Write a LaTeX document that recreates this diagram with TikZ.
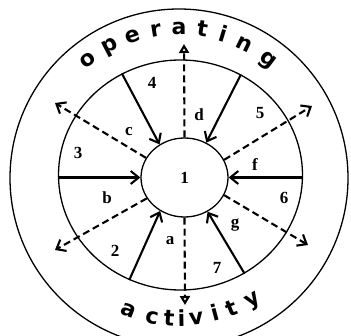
\documentclass[tikz,border=0pt]{standalone}
\usepackage{fontspec}
\usepackage{tikz}
\usetikzlibrary{arrows.meta, shapes.geometric}
\newfontfamily\numfont{Liberation Serif}
\newfontfamily\rimfont{DejaVu Sans}
\tikzset{
  ring/.style={draw, ellipse, line width=1.3pt, inner sep=0pt},
  hub/.style={draw, ellipse, line width=1.3pt, inner sep=0pt,
              font=\numfont\bfseries\fontsize{17}{17}\selectfont},
  inarrow/.style={-{Straight Barb[length=8pt,width=13pt]}, line width=2.1pt},
  outarrow/.style={-{Straight Barb[length=8pt,width=13pt]}, line width=2.1pt,
                   dash pattern=on 7pt off 4pt},
  outtri/.style={-{Triangle[open,length=9pt,width=10pt]}, line width=2.1pt,
                 dash pattern=on 7pt off 4pt},
  num/.style={font=\numfont\bfseries\fontsize{17}{17}\selectfont, inner sep=0pt},
  rimletter/.style={font=\rimfont\bfseries\fontsize{22}{22}\selectfont,
                    inner sep=0pt, anchor=base},
}

\begin{document}
\begin{tikzpicture}[x=1pt, y=1pt]
  \useasboundingbox (0,0) rectangle (351,335);

  % --- Rings ---
  \node[ring, minimum width=338, minimum height=338] (rim) at (179,157) {};
  \node[ring, minimum width=244, minimum height=230] (wall) at (180.5,160) {};
  \node[hub, minimum width=87, minimum height=79] (hub) at (184.5,157.5) {1};

  % --- Free ends of the outgoing arrows ---
  \coordinate (dtop) at (184,291);
  \coordinate (dbot) at (185,30);
  \coordinate (dtl) at (55,232);
  \coordinate (dtr) at (312,229);
  \coordinate (dbl) at (55,85);
  \coordinate (dbr) at (308,90);

  % --- Incoming arrows ---
  \draw[inarrow] (wall.120) -- (hub.127);
  \draw[inarrow] (wall.59) -- (hub.58);
  \draw[inarrow] (hub.west -| wall.west) -- (hub.west);
  \draw[inarrow] (hub.east -| wall.east) -- (hub.east);
  \draw[inarrow] (wall.244) -- (hub.234);
  \draw[inarrow] (wall.303) -- (hub.304);

  % --- Outgoing arrows ---
  \draw[outtri] (hub.north) -- (dtop);
  \draw[outtri] (hub.south) -- (dbot);
  \draw[outarrow] (hub.153) -- (dtl);
  \draw[outarrow] (hub.24) -- (dtr);
  \draw[outarrow] (hub.209) -- (dbl);
  \draw[outarrow] (hub.336) -- (dbr);

  % --- Sector labels ---
  \node[num] (n2) at (115,84) {2};
  \node[num] (n3) at (78,182) {3};
  \node[num] (n4) at (152,252) {4};
  \node[num] (n5) at (260,222) {5};
  \node[num] (n6) at (284,137) {6};
  \node[num] (n7) at (217,67) {7};
  \node[num] (la) at (170,94) {a};
  \node[num] (lb) at (107,137) {b};
  \node[num] (lc) at (129,203) {c};
  \node[num] (ld) at (199,220) {d};
  \node[num] (lf) at (255,170) {f};
  \node[num] (lg) at (235,110) {g};

  % --- Text round the rim ---
  \foreach \ch/\ang [count=\k] in {o/127.5,p/117.5,e/108,r/99,a/90,t/81,i/73,n/64,g/53}
    \node[rimletter, rotate=\ang-90] (top\k) at ([shift={(\ang:143)}]rim.center) {\ch};
  \foreach \ch/\ang [count=\k] in {a/249,c/259,t/266,i/271,v/277,i/285,t/292,y/301}
    \node[rimletter, rotate=\ang+90] (bot\k) at ([shift={(\ang:148)}]rim.center) {\ch};
\end{tikzpicture}
\end{document}
